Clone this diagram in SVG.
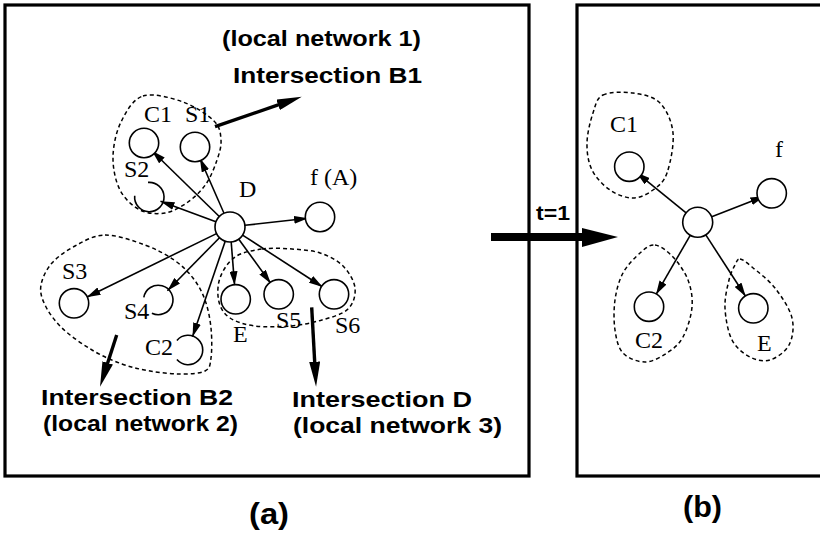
<svg xmlns="http://www.w3.org/2000/svg" width="820" height="536" viewBox="0 0 820 536">
<style>
.frame{fill:none;stroke:#000;stroke-width:3.2}
.node{fill:#fff;stroke:#000;stroke-width:1.6}
.arc{fill:none;stroke:#000;stroke-width:1.6}
.region{fill:none;stroke:#000;stroke-width:1.5;stroke-dasharray:4 3}
.edge{fill:none;stroke:#000;stroke-width:1.6;marker-end:url(#ah)}
.thick{fill:none;stroke:#000;stroke-width:3.4;marker-end:url(#bh)}
.lbl{font-family:"Liberation Serif","Times New Roman",serif;font-size:24px;fill:#000}
.bold{font-family:"Liberation Sans",Arial,sans-serif;font-weight:bold;font-size:22px;fill:#000}
</style>
<defs>
<marker id="ah" viewBox="0 0 14 8" refX="14" refY="4" markerWidth="14" markerHeight="8" markerUnits="userSpaceOnUse" orient="auto">
<path d="M0,0 L14,4 L0,8 z" fill="#000"/>
</marker>
<marker id="bh" viewBox="0 0 25 11" refX="13" refY="5.5" markerWidth="25" markerHeight="11" markerUnits="userSpaceOnUse" orient="auto">
<path d="M0,0 L25,5.5 L0,11 z" fill="#000"/>
</marker>
</defs>
<rect width="820" height="536" fill="#fff"/>

<g id="frames">
<rect class="frame" x="5" y="5" width="524" height="471"/>
<rect class="frame" x="577" y="5" width="300" height="471"/>
</g>

<g id="regions">
<path id="region-B1" class="region" d="M143,96 C153.3,92.7 171.2,97.8 183,102 C194.8,106.2 207.7,114.7 214,121 C220.3,127.3 220.5,133.5 221,140 C221.5,146.5 219.5,152.7 217,160 C214.5,167.3 210.8,177 206,184 C201.2,191 194.8,197.2 188,202 C181.2,206.8 173,211.7 165,213 C157,214.3 147.5,213.8 140,210 C132.5,206.2 124.5,198.8 120,190 C115.5,181.2 112.8,168.3 113,157 C113.2,145.7 116,132.2 121,122 C126,111.8 132.7,99.3 143,96 Z"/>
<path id="region-B2" class="region" d="M105,235 C116.7,234.8 133.5,240.8 145,245 C156.5,249.2 166,254.5 174,260 C182,265.5 187.8,271.3 193,278 C198.2,284.7 202,291.7 205,300 C208,308.3 210,318.3 211,328 C212,337.7 212,350.8 211,358 C210,365.2 210.2,368.3 205,371 C199.8,373.7 189.2,374 180,374 C170.8,374 159.7,372.7 150,371 C140.3,369.3 131.7,367.5 122,364 C112.3,360.5 102,356 92,350 C82,344 69.8,335.5 62,328 C54.2,320.5 48.5,312.2 45,305 C41.5,297.8 39.8,292 41,285 C42.2,278 46.3,269.5 52,263 C57.7,256.5 66.2,250.7 75,246 C83.8,241.3 93.3,235.2 105,235 Z"/>
<path id="region-D" class="region" d="M262,249 C271.5,247.7 282.3,248.3 292,249 C301.7,249.7 311.5,250.2 320,253 C328.5,255.8 337.2,260.2 343,266 C348.8,271.8 354.2,280.8 355,288 C355.8,295.2 353.5,303.7 348,309 C342.5,314.3 331.7,317.2 322,320 C312.3,322.8 301.2,325 290,326 C278.8,327 265,327.3 255,326 C245,324.7 236,322 230,318 C224,314 220.7,308.7 219,302 C217.3,295.3 217.3,285.5 220,278 C222.7,270.5 228,261.8 235,257 C242,252.2 252.5,250.3 262,249 Z"/>
<path id="region-C1b" class="region" d="M603,95 C609.7,91.7 623.5,91.7 633,93 C642.5,94.3 653.3,96.3 660,103 C666.7,109.7 671.8,121.3 673,133 C674.2,144.7 670.3,163.5 667,173 C663.7,182.5 658.7,185.8 653,190 C647.3,194.2 640.2,198 633,198 C625.8,198 616.8,194.7 610,190 C603.2,185.3 595.8,177.8 592,170 C588.2,162.2 586.8,152.5 587,143 C587.2,133.5 590.3,121 593,113 C595.7,105 596.3,98.3 603,95 Z"/>
<path id="region-C2b" class="region" d="M655,245 C660.5,245.7 667.5,251.2 673,257 C678.5,262.8 684.8,271.7 688,280 C691.2,288.3 692.8,297.5 692,307 C691.2,316.5 687.2,329.3 683,337 C678.8,344.7 673.3,348.8 667,353 C660.7,357.2 652.3,362 645,362 C637.7,362 628,358.3 623,353 C618,347.7 616.3,338.8 615,330 C613.7,321.2 613.7,309.5 615,300 C616.3,290.5 618.8,280.8 623,273 C627.2,265.2 634.7,257.7 640,253 C645.3,248.3 649.5,244.3 655,245 Z"/>
<path id="region-Eb" class="region" d="M740,259 C742.8,259.3 746.2,262.2 752,267 C757.8,271.8 768.3,279.5 775,288 C781.7,296.5 789.7,308.5 792,318 C794.3,327.5 792.7,338 789,345 C785.3,352 776.5,358 770,360 C763.5,362 756.3,360.3 750,357 C743.7,353.7 736.2,348.2 732,340 C727.8,331.8 725.5,318 725,308 C724.5,298 727.3,287.2 729,280 C730.7,272.8 733.2,268.5 735,265 C736.8,261.5 737.2,258.7 740,259 Z"/>
</g>

<g id="connectors">
<line class="edge" x1="219.3" y1="216.5" x2="151.9" y2="150.7"/>
<line class="edge" x1="224" y1="213.3" x2="199.8" y2="158"/>
<line class="edge" x1="215.9" y1="221.8" x2="160.5" y2="201.2"/>
<line class="edge" x1="244.9" y1="225.3" x2="308.1" y2="218.3"/>
<line class="edge" x1="216.5" y1="233.6" x2="86.6" y2="297.2"/>
<line class="edge" x1="219.5" y1="237.7" x2="167.4" y2="290.7"/>
<line class="edge" x1="225.2" y1="241.2" x2="192.5" y2="336.8"/>
<line class="edge" x1="231.2" y1="242" x2="234.6" y2="285.3"/>
<line class="edge" x1="238.8" y1="239.2" x2="270.8" y2="283.4"/>
<line class="edge" x1="242.6" y1="235.1" x2="322.7" y2="287"/>
<line class="edge" x1="686.1" y1="212.8" x2="636.3" y2="172.4"/>
<line class="edge" x1="711.7" y1="216.8" x2="764.3" y2="196.2"/>
<line class="edge" x1="690.2" y1="235.3" x2="656" y2="294.6"/>
<line class="edge" x1="705.8" y1="234.9" x2="745.7" y2="296.5"/>
<line class="thick" x1="215" y1="126.7" x2="290.4" y2="100.6"/>
<line class="thick" x1="116.7" y1="335" x2="103.7" y2="375.3"/>
<line class="thick" x1="311.7" y1="307.3" x2="315.4" y2="374.7"/>
<g id="t1-arrow">
<rect x="491" y="233" width="92" height="8" fill="#000"/>
<path d="M582,228 L618,237 L582,247 z" fill="#000"/>
</g>
</g>

<g id="node-D"><circle class="node" cx="230" cy="227" r="15"/><text class="lbl" x="239" y="197">D</text></g>
<g id="node-C1"><circle class="node" cx="144" cy="143" r="14.7"/><text class="lbl" x="144" y="122">C1</text></g>
<g id="node-S1"><circle class="node" cx="195" cy="147" r="14.7"/><text class="lbl" x="185" y="122">S1</text></g>
<g id="node-S2"><path class="arc" d="M148,182.4 A14.7,14.7 0 1 1 134.7,195.7"/><text class="lbl" x="124" y="177">S2</text></g>
<g id="node-fA"><circle class="node" cx="320" cy="217" r="14.7"/><text class="lbl" x="310" y="185">f (A)</text></g>
<g id="node-S3"><circle class="node" cx="74" cy="303.3" r="14.7"/><text class="lbl" x="62" y="279">S3</text></g>
<g id="node-S4"><path class="arc" d="M143.8,297.4 A14.7,14.7 0 1 1 151.9,313.2"/><text class="lbl" x="124" y="319">S4</text></g>
<g id="node-C2"><path class="arc" d="M176.9,340.4 A14.7,14.7 0 1 1 176.9,359.6"/><text class="lbl" x="145" y="355">C2</text></g>
<g id="node-E"><circle class="node" cx="235.7" cy="299.3" r="14.7"/><text class="lbl" x="233" y="342">E</text></g>
<g id="node-S5"><circle class="node" cx="278.7" cy="294.3" r="14.7"/><text class="lbl" x="276" y="328">S5</text></g>
<g id="node-S6"><circle class="node" cx="334" cy="294.3" r="14.7"/><text class="lbl" x="335" y="333">S6</text></g>

<g id="node-Db"><circle class="node" cx="697.7" cy="222.3" r="15"/></g>
<g id="node-C1b"><circle class="node" cx="629.3" cy="166.7" r="14.7"/><text class="lbl" x="610" y="132">C1</text></g>
<g id="node-fb"><circle class="node" cx="771.7" cy="193.3" r="14.7"/><text class="lbl" x="775" y="157">f</text></g>
<g id="node-C2b"><circle class="node" cx="649" cy="306.7" r="14.7"/><text class="lbl" x="635" y="348">C2</text></g>
<g id="node-Eb"><circle class="node" cx="753.3" cy="308.3" r="14.7"/><text class="lbl" x="757" y="351">E</text></g>

<g id="captions">
<text class="bold" x="222" y="46" textLength="199" lengthAdjust="spacingAndGlyphs">(local network 1)</text>
<text class="bold" x="233" y="83" textLength="189" lengthAdjust="spacingAndGlyphs">Intersection B1</text>
<text class="bold" x="41" y="405" textLength="192" lengthAdjust="spacingAndGlyphs">Intersection B2</text>
<text class="bold" x="43" y="431" textLength="195" lengthAdjust="spacingAndGlyphs">(local network 2)</text>
<text class="bold" x="292" y="407" textLength="180" lengthAdjust="spacingAndGlyphs">Intersection D</text>
<text class="bold" x="293" y="433" textLength="209" lengthAdjust="spacingAndGlyphs">(local network 3)</text>
<text class="bold" x="536" y="220" style="font-size:21px" textLength="34" lengthAdjust="spacingAndGlyphs">t=1</text>
<text class="bold" x="249" y="524" style="font-size:29px" textLength="40" lengthAdjust="spacingAndGlyphs">(a)</text>
<text class="bold" x="683" y="517" style="font-size:29px" textLength="39" lengthAdjust="spacingAndGlyphs">(b)</text>
</g>
</svg>
